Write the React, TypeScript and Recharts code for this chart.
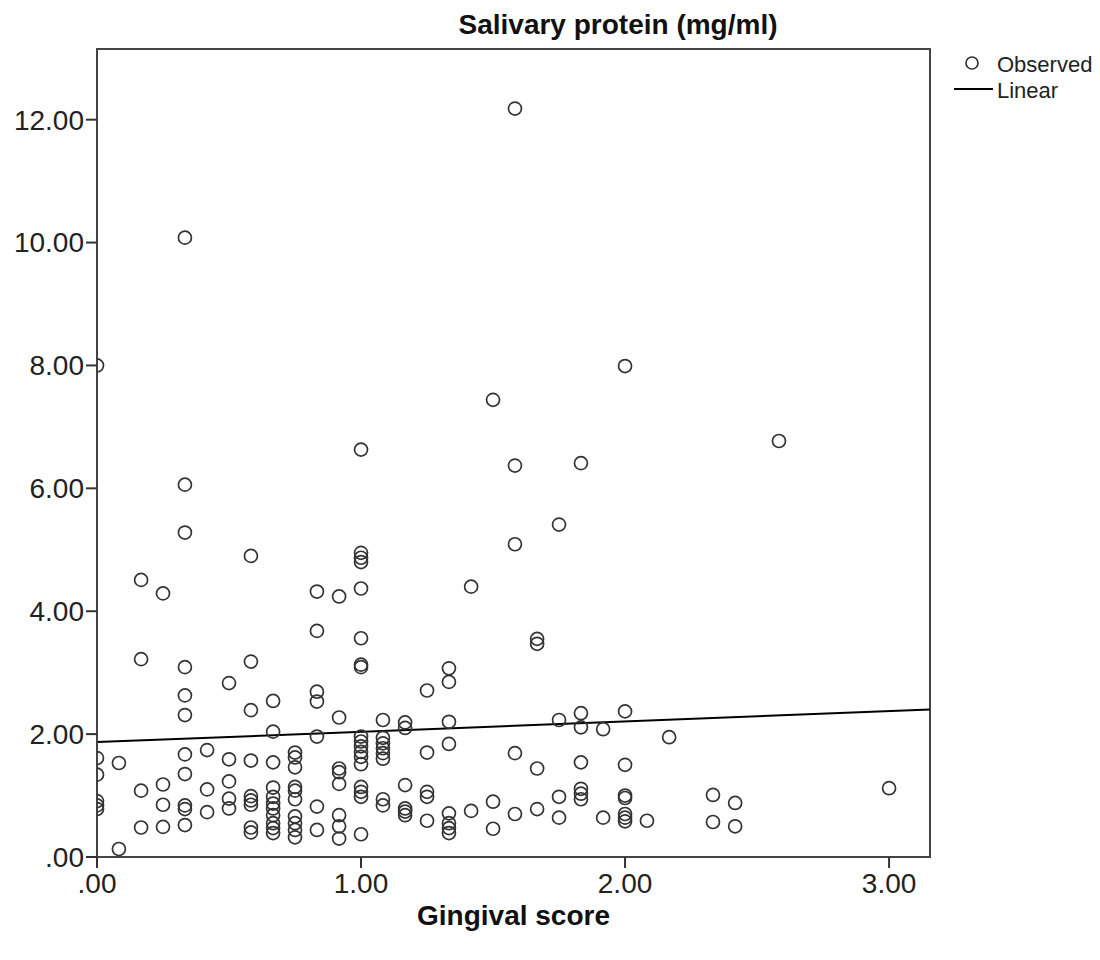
import {
  ReferenceArea,
  ReferenceLine,
  Scatter,
  ScatterChart,
  XAxis,
  YAxis,
} from "recharts";

// gingival score levels (twelfths) and the salivary protein values seen at each level
const scoreLevels = [
  0, 0.083, 0.167, 0.25, 0.333, 0.417, 0.5, 0.583, 0.667, 0.75, 0.833, 0.917, 1,
  1.083, 1.167, 1.25, 1.333, 1.417, 1.5, 1.583, 1.667, 1.75, 1.833, 1.917, 2,
  2.083, 2.167, 2.333, 2.417, 2.583, 3,
];

const proteinByLevel = [
  [8.0, 1.61, 1.34, 0.91, 0.84, 0.78],
  [1.53, 0.13],
  [4.51, 3.22, 1.08, 0.48],
  [4.29, 1.18, 0.85, 0.49],
  [10.08, 6.06, 5.28, 3.09, 2.63, 2.31, 1.67, 1.35, 0.84, 0.78, 0.52],
  [1.74, 1.1, 0.73],
  [2.83, 1.59, 1.23, 0.95, 0.79],
  [4.9, 3.18, 2.39, 1.57, 0.99, 0.92, 0.85, 0.48, 0.4],
  [2.54, 2.04, 1.54, 1.13, 0.98, 0.87, 0.79, 0.68, 0.55, 0.47, 0.39],
  [1.7, 1.62, 1.46, 1.14, 1.08, 0.94, 0.66, 0.55, 0.44, 0.32],
  [4.32, 3.68, 2.69, 2.53, 1.96, 0.82, 0.44],
  [4.24, 2.27, 1.44, 1.38, 1.19, 0.68, 0.5, 0.3],
  [6.63, 4.95, 4.87, 4.8, 4.37, 3.56, 3.13, 3.09, 1.96, 1.88, 1.8, 1.71, 1.63, 1.51, 1.14, 1.06, 0.98, 0.37],
  [2.23, 1.94, 1.85, 1.77, 1.69, 1.6, 0.94, 0.84],
  [2.19, 2.1, 1.17, 0.79, 0.74, 0.68],
  [2.71, 1.7, 1.06, 0.98, 0.59],
  [3.07, 2.85, 2.2, 1.84, 0.71, 0.55, 0.47, 0.39],
  [4.4, 0.75],
  [7.44, 0.9, 0.46],
  [12.18, 6.37, 5.09, 1.69, 0.7],
  [3.55, 3.47, 1.44, 0.78],
  [5.41, 2.23, 0.98, 0.64],
  [6.41, 2.34, 2.11, 1.54, 1.11, 1.03, 0.94],
  [2.08, 0.64],
  [7.99, 2.37, 1.5, 1.0, 0.96, 0.7, 0.64, 0.58],
  [0.59],
  [1.95],
  [1.01, 0.57],
  [0.88, 0.5],
  [6.77],
  [1.12],
];

// linear fit line, read at the left and right edge of the plot
const fitX = [0, 3.155];
const fitY = [1.87, 2.4];

const xTicks = [0, 1, 2, 3];
const yTicks = [0, 2, 4, 6, 8, 10, 12];
const X_MAX = 3.155;
const Y_MAX = 13.15;

const FONT = "'Liberation Sans', Arial, sans-serif";

const observed = scoreLevels.flatMap((score, i) =>
  proteinByLevel[i].map((protein) => ({ score, protein }))
);

const fmt = (v: number) => (v === 0 ? ".00" : v.toFixed(2));

const Ring = (props: any) => (
  <circle cx={props.cx} cy={props.cy} r={6.5} fill="none" stroke="#333" strokeWidth={1.7} />
);

function ChartLegend() {
  return (
    <div
      style={{
        position: "absolute",
        left: 954,
        top: 52,
        fontFamily: FONT,
        fontSize: 22,
        color: "#222",
        lineHeight: "26px",
      }}
    >
      <div style={{ display: "flex", alignItems: "center" }}>
        <svg width={43} height={26}>
          <circle cx={18} cy={11} r={6} fill="none" stroke="#333" strokeWidth={1.7} />
        </svg>
        <span>Observed</span>
      </div>
      <div style={{ display: "flex", alignItems: "center" }}>
        <svg width={43} height={26}>
          <line x1={0} x2={39} y1={11} y2={11} stroke="#000" strokeWidth={2} />
        </svg>
        <span>Linear</span>
      </div>
    </div>
  );
}

export default function App() {
  return (
    <div style={{ position: "absolute", left: 0, top: 0, width: 1100, height: 960, background: "#fff" }}>
      <div
        style={{
          position: "absolute",
          left: 318,
          top: 11,
          width: 600,
          textAlign: "center",
          fontFamily: FONT,
          fontWeight: "bold",
          fontSize: 28,
          lineHeight: "28px",
          color: "#111",
        }}
      >
        Salivary protein (mg/ml)
      </div>
      <ChartLegend />
      <ScatterChart width={1100} height={960} margin={{ top: 49, right: 170, bottom: 23, left: 0 }}>
        <XAxis
          type="number"
          dataKey="score"
          domain={[0, X_MAX]}
          ticks={xTicks}
          allowDataOverflow
          tickFormatter={fmt}
          height={80}
          tickSize={11}
          tickMargin={5}
          axisLine={{ stroke: "#444", strokeWidth: 2 }}
          tickLine={{ stroke: "#333", strokeWidth: 2 }}
          tick={{ fontFamily: FONT, fontSize: 28, fill: "#222" }}
          label={{
            value: "Gingival score",
            position: "insideBottom",
            offset: 12,
            fontFamily: FONT,
            fontSize: 28,
            fontWeight: "bold",
            fill: "#111",
          }}
        />
        <YAxis
          type="number"
          dataKey="protein"
          domain={[0, Y_MAX]}
          ticks={yTicks}
          allowDataOverflow
          tickFormatter={fmt}
          width={97}
          tickSize={11}
          tickMargin={2}
          axisLine={{ stroke: "#444", strokeWidth: 2 }}
          tickLine={{ stroke: "#333", strokeWidth: 2 }}
          tick={{ fontFamily: FONT, fontSize: 28, fill: "#222" }}
        />
        <ReferenceArea
          x1={0}
          x2={X_MAX}
          y1={0}
          y2={Y_MAX}
          fill="none"
          stroke="#444"
          strokeWidth={2}
          ifOverflow="visible"
        />
        <ReferenceLine
          segment={[
            { x: fitX[0], y: fitY[0] },
            { x: fitX[1], y: fitY[1] },
          ]}
          stroke="#000"
          strokeWidth={2}
          ifOverflow="visible"
        />
        <Scatter name="Observed" data={observed} shape={Ring} isAnimationActive={false} />
      </ScatterChart>
    </div>
  );
}
